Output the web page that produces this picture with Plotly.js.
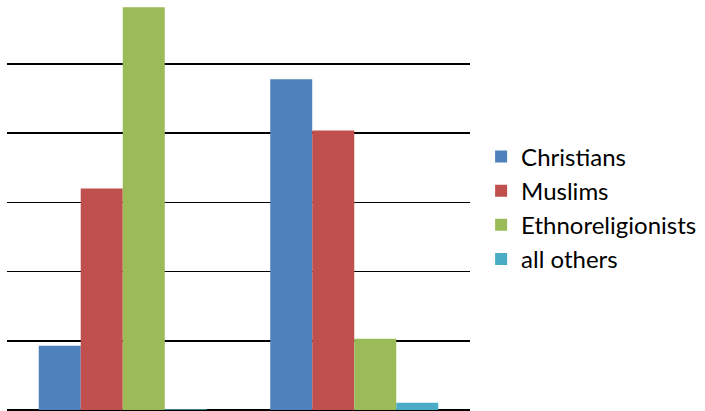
<!DOCTYPE html>
<html>
<head>
<meta charset="utf-8">
<script src="https://cdn.plot.ly/plotly-3.0.1.min.js"></script>
<style>html,body{margin:0;padding:0;background:#fff;}#chart{width:705px;height:411px;}</style>
</head>
<body>
<div id="chart"></div>
<script>
const categories = ["1900", "2010"];
const seriesNames = ["Christians", "Muslims", "Ethnoreligionists", "all others"];
const christians = [9.3, 47.8];
const muslims = [32.0, 40.4];
const ethnoreligionists = [58.2, 10.3];
const allOthers = [0.1, 1.05];
const colors = ["#4F81BD", "#C0504D", "#9BBB59", "#4BACC6"];

const values = [christians, muslims, ethnoreligionists, allOthers];
const traces = values.map((v, i) => ({
  type: "bar",
  name: seriesNames[i],
  x: categories,
  y: v,
  marker: {color: colors[i], line: {width: 0}},
  hoverinfo: "skip"
}));

const layout = {
  width: 705,
  height: 411,
  margin: {l: 7, r: 235, t: 0, b: 1, pad: 0},
  paper_bgcolor: "#fff",
  plot_bgcolor: "#fff",
  barmode: "group",
  bargap: 0.274,
  bargroupgap: 0,
  font: {family: "Lato, 'Noto Sans', sans-serif", size: 24, color: "#000"},
  xaxis: {showticklabels: false, showgrid: false, zeroline: false, showline: false, ticks: ""},
  yaxis: {
    range: [0, 59.25],
    dtick: 10,
    showticklabels: false,
    showgrid: true,
    gridcolor: "#000",
    gridwidth: 1.6,
    zeroline: true,
    zerolinecolor: "#000",
    zerolinewidth: 1.6,
    ticks: "",
    showline: false
  },
  showlegend: true,
  legend: {
    x: 1.024,
    xanchor: "left",
    y: 0.493,
    yanchor: "middle",
    font: {family: "Lato, 'Noto Sans', sans-serif", size: 24, color: "#000"},
    bgcolor: "rgba(0,0,0,0)",
    itemwidth: 30,
    tracegroupgap: 0
  }
};

Plotly.newPlot("chart", traces, layout, {displayModeBar: false, staticPlot: true});
</script>
</body>
</html>
